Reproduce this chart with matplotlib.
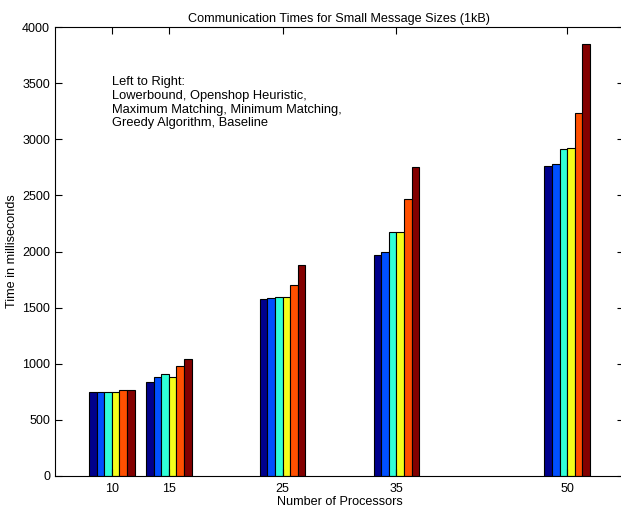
import matplotlib
matplotlib.use('Agg')
import matplotlib.pyplot as plt
import numpy as np

plt.rcParams['font.family'] = ['Liberation Sans', 'DejaVu Sans']

# Число процессоров и времена (мс) для каждого алгоритма
processors = [10, 15, 25, 35, 50]
lowerbound = [745, 833, 1573, 1971, 2765]
openshop = [745, 878, 1585, 1998, 2785]
max_matching = [745, 907, 1597, 2174, 2912]
min_matching = [745, 878, 1591, 2174, 2923]
greedy = [765, 979, 1698, 2466, 3238]
baseline = [768, 1041, 1877, 2757, 3851]

series = [lowerbound, openshop, max_matching, min_matching, greedy, baseline]
colors = ['#00008C', '#0050FF', '#30FFD8', '#F4FF1C', '#FF5000', '#830000']

note = ("Left to Right:\nLowerbound, Openshop Heuristic,\n"
        "Maximum Matching, Minimum Matching,\nGreedy Algorithm, Baseline")

fig = plt.figure(figsize=(6.21, 5.16), dpi=100)
ax = fig.add_axes([55 / 621, 40.3 / 516, 569 / 621, 448.4 / 516])

n = len(series)
group_w = 0.8 * 5
bar_w = group_w / n
x = np.array(processors, dtype=float)
for i, (vals, c) in enumerate(zip(series, colors)):
    offs = -group_w / 2 + bar_w * (i + 0.5)
    ax.bar(x + offs, vals, width=bar_w, color=c, edgecolor='black', linewidth=0.8)

ax.set_xlim(5, 55)
ax.set_ylim(0, 4000)
ax.set_xticks(processors)
ax.set_yticks(np.arange(0, 4001, 500))
ax.tick_params(direction='in', length=5, labelsize=9, top=True, right=True, width=0.8)
ax.tick_params(axis='x', pad=5)
for s in ax.spines.values():
    s.set_linewidth(0.8)

ax.set_title('Communication Times for Small Message Sizes (1kB)', fontsize=9.1, pad=4)
ax.set_xlabel('Number of Processors', fontsize=9.1, labelpad=1)
ax.set_ylabel('Time in milliseconds', fontsize=9.1, labelpad=3)
ax.text(10, 3565, note, fontsize=9.3, va='top', ha='left', linespacing=1.2)

fig.savefig('out.png', dpi=100)
